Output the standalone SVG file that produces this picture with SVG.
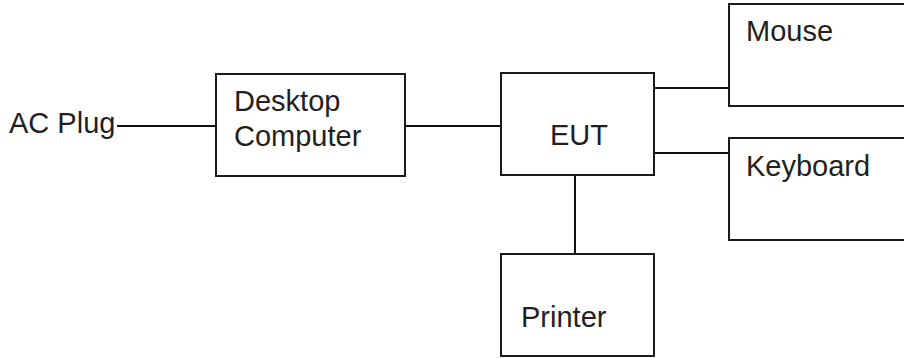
<svg xmlns="http://www.w3.org/2000/svg" width="904" height="358" viewBox="0 0 904 358">
  <style>
    .box { fill: #ffffff; stroke: #1a1a1a; stroke-width: 2; }
    .wire { fill: none; stroke: #111111; stroke-width: 2; }
    .lbl { font-family: "Liberation Sans", Arial, sans-serif; font-size: 29px; fill: #231f20; }
  </style>
  <rect width="904" height="358" fill="#ffffff"/>

  <!-- connectors -->
  <g id="connectors">
    <line class="wire" x1="117" y1="126" x2="216" y2="126"/>
    <line class="wire" x1="405" y1="126" x2="501" y2="126"/>
    <polyline class="wire" points="654,88 729,88"/>
    <polyline class="wire" points="654,153 729,153"/>
    <line class="wire" x1="575" y1="175" x2="575" y2="255"/>
  </g>

  <!-- nodes -->
  <g id="ac-plug">
    <text class="lbl" x="9" y="133">AC Plug</text>
  </g>

  <g id="desktop-computer">
    <rect class="box" x="216" y="74" width="189" height="102"/>
    <text class="lbl" x="234" y="111">Desktop</text>
    <text class="lbl" x="234" y="146">Computer</text>
  </g>

  <g id="eut">
    <rect class="box" x="501" y="73" width="153" height="102"/>
    <text class="lbl" x="550" y="145">EUT</text>
  </g>

  <g id="mouse">
    <rect class="box" x="729" y="4" width="190" height="102"/>
    <text class="lbl" x="746" y="41">Mouse</text>
  </g>

  <g id="keyboard">
    <rect class="box" x="729" y="138" width="190" height="102"/>
    <text class="lbl" x="746" y="176">Keyboard</text>
  </g>

  <g id="printer">
    <rect class="box" x="501" y="254" width="153" height="102"/>
    <text class="lbl" x="521" y="327">Printer</text>
  </g>
</svg>
